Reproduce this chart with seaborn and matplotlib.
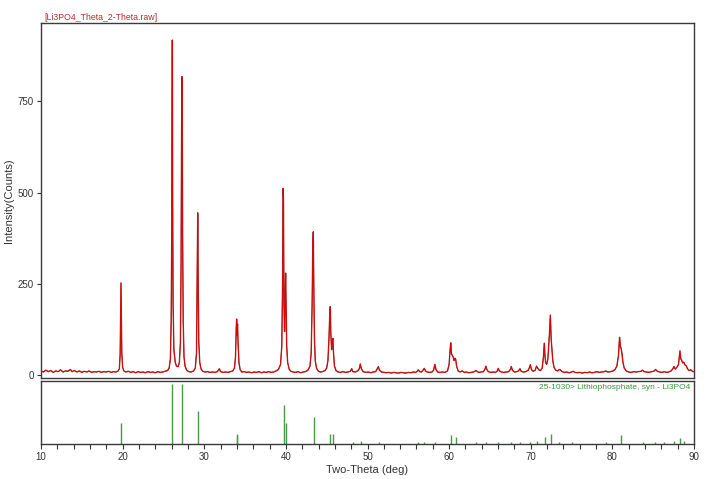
import matplotlib
matplotlib.use("Agg")
import matplotlib.pyplot as plt
from matplotlib.ticker import MultipleLocator
import seaborn as sns
import pandas as pd

# ---------------- data ----------------
two_theta = [
    10.0, 10.3, 10.6, 10.9, 11.2, 11.5, 11.8, 12.1, 12.4, 12.7, 13.0, 13.3, 13.6, 13.8,
    14.1, 14.4, 14.7, 15.0, 15.3, 15.6, 15.9, 16.2, 16.5, 16.8, 17.1, 17.4, 17.7, 18.0,
    18.3, 18.6, 18.9, 19.2, 19.45,
    19.6, 19.7, 19.76, 19.8, 19.84, 19.9, 20.0, 20.15,
    20.4, 20.7, 21.0, 21.3, 21.6, 21.9, 22.2, 22.5, 22.8, 23.1, 23.4, 23.7, 24.0, 24.3,
    24.6, 24.9, 25.2, 25.5, 25.7,
    25.85, 25.95, 26.02, 26.06, 26.09, 26.12, 26.18, 26.28, 26.45, 26.6, 26.8, 26.95,
    27.08, 27.16, 27.22, 27.27, 27.3, 27.34, 27.42, 27.52, 27.65, 27.85, 28.1, 28.4,
    28.7, 28.9, 29.05, 29.13, 29.2, 29.25, 29.33, 29.45, 29.6, 29.8, 30.1, 30.4, 30.7,
    31.0, 31.3, 31.6, 31.85, 32.0, 32.3, 32.6, 32.9, 33.2, 33.5, 33.7, 33.83, 33.92,
    33.97, 34.02, 34.08, 34.14, 34.25, 34.4, 34.6, 34.9, 35.2, 35.5, 35.8, 36.1, 36.4,
    36.7, 37.0, 37.3, 37.6, 37.9, 38.2, 38.5, 38.8, 39.1, 39.35, 39.5, 39.6, 39.66,
    39.71, 39.76, 39.84, 39.92, 39.97, 40.02, 40.1, 40.22, 40.4, 40.6, 40.9, 41.2,
    41.5, 41.8, 42.1, 42.4, 42.7, 42.95, 43.1, 43.22, 43.3, 43.36, 43.42, 43.5, 43.6,
    43.75, 43.95, 44.2, 44.5, 44.8, 45.0, 45.15, 45.28, 45.38, 45.44, 45.5, 45.6, 45.7,
    45.76, 45.84, 45.95, 46.15, 46.4, 46.7, 47.0, 47.3, 47.6, 47.9, 48.06, 48.2, 48.5,
    48.8, 49.0, 49.12, 49.25, 49.45, 49.8, 50.1, 50.4, 50.7, 51.0, 51.2, 51.33, 51.45,
    51.7, 52.0, 52.3, 52.6, 52.9, 53.2, 53.5, 53.8, 54.1, 54.4, 54.7, 55.0, 55.3, 55.6,
    55.9, 56.1, 56.22, 56.4, 56.6, 56.8, 56.96, 57.1, 57.3, 57.6, 57.9, 58.1, 58.25,
    58.4, 58.6, 58.9, 59.2, 59.5, 59.8, 60.0, 60.12, 60.2, 60.28, 60.38, 60.48, 60.6,
    60.72, 60.8, 60.92, 61.1, 61.35, 61.6, 61.85, 62.1, 62.4, 62.7, 63.0, 63.3, 63.6,
    63.9, 64.2, 64.4, 64.5, 64.62, 64.8, 65.1, 65.4, 65.7, 65.9, 66.02, 66.15, 66.4,
    66.7, 67.0, 67.3, 67.5, 67.62, 67.75, 68.0, 68.3, 68.5, 68.68, 68.82, 69.1, 69.4,
    69.7, 69.85, 69.95, 70.1, 70.3, 70.55, 70.7, 70.85, 71.0, 71.2, 71.4, 71.55, 71.66,
    71.74, 71.82, 71.95, 72.1, 72.28, 72.4, 72.5, 72.6, 72.7, 72.85, 73.05, 73.3, 73.5,
    73.62, 73.85, 74.1, 74.4, 74.7, 75.0, 75.2, 75.4, 75.7, 76.0, 76.3, 76.6, 76.9,
    77.2, 77.5, 77.8, 78.1, 78.4, 78.7, 79.0, 79.2, 79.45, 79.7, 80.0, 80.3, 80.55,
    80.75, 80.88, 80.98, 81.1, 81.2, 81.3, 81.45, 81.7, 82.0, 82.3, 82.6, 82.9, 83.2,
    83.5, 83.7, 83.9, 84.2, 84.5, 84.8, 85.05, 85.3, 85.5, 85.8, 86.1, 86.35, 86.6,
    86.9, 87.2, 87.4, 87.55, 87.7, 87.9, 88.1, 88.28, 88.38, 88.48, 88.6, 88.75, 88.9,
    89.05, 89.2, 89.4, 89.6, 89.8, 90.0,
]
counts = [
    12, 9, 14, 10, 13, 8, 12, 10, 15, 9, 12, 11, 16, 10,
    13, 9, 12, 8, 11, 9, 12, 8, 10, 9, 11, 8, 10, 9,
    11, 8, 10, 9, 12,
    18, 60, 180, 253, 170, 60, 22, 12,
    9, 11, 8, 10, 7, 10, 8, 9, 7, 10, 8, 9, 7, 10,
    8, 9, 11, 13, 20,
    45, 150, 400, 658, 918, 520, 200, 70, 35, 25, 24, 35,
    90, 300, 650, 818, 800, 420, 150, 50, 25, 14, 10, 9,
    12, 20, 60, 250, 445, 270, 90, 35, 18, 11, 9, 10, 8,
    9, 8, 10, 18, 10, 8, 9, 8, 10, 12, 20, 50, 130,
    154, 110, 140, 90, 35, 15, 9, 10, 8, 9, 7, 9, 8,
    10, 7, 9, 8, 10, 8, 9, 12, 16, 30, 80, 260, 512,
    480, 200, 120, 230, 280, 200, 80, 35, 17, 11, 9, 8,
    10, 7, 9, 10, 14, 25, 60, 200, 357, 393, 250, 100, 40,
    20, 12, 9, 10, 13, 20, 40, 100, 170, 188, 120, 70, 95,
    101, 60, 25, 13, 9, 8, 10, 8, 9, 11, 18, 10, 9,
    12, 18, 31, 18, 10, 8, 9, 7, 9, 10, 18, 24, 15,
    9, 8, 7, 8, 6, 8, 7, 6, 8, 7, 6, 8, 7, 9,
    8, 11, 15, 10, 9, 14, 19, 12, 9, 8, 9, 14, 30,
    15, 9, 8, 9, 8, 12, 30, 70, 89, 60, 55, 51, 40,
    47, 44, 25, 12, 9, 12, 8, 9, 7, 8, 9, 13, 8,
    9, 10, 17, 25, 16, 10, 8, 9, 8, 12, 19, 12, 9,
    8, 9, 10, 16, 24, 14, 9, 10, 12, 18, 11, 9, 10,
    14, 22, 29, 15, 11, 14, 25, 20, 15, 13, 20, 50, 88,
    55, 35, 30, 45, 110, 165, 100, 69, 40, 22, 14, 12, 16,
    15, 10, 8, 9, 7, 9, 11, 8, 7, 8, 6, 8, 7,
    9, 7, 8, 10, 8, 9, 10, 12, 9, 10, 11, 15, 25,
    55, 104, 80, 71, 55, 35, 20, 12, 9, 8, 10, 9, 10,
    11, 14, 10, 9, 8, 10, 11, 16, 11, 9, 8, 10, 8,
    9, 12, 18, 24, 17, 22, 30, 67, 45, 42, 34, 36, 28,
    26, 18, 13, 15, 11, 10,
]

ref_pos = [19.80, 26.09, 27.27, 29.23, 33.97, 34.05, 39.73, 40.01, 43.41, 45.44, 45.73,
           48.2, 49.2, 51.36, 56.2, 56.96, 58.3, 60.2, 60.84, 63.3, 64.5, 66.0, 67.6,
           68.7, 69.95, 70.8, 71.75, 72.44, 73.5, 75.1, 79.2, 81.06, 83.8, 85.2, 86.3,
           87.55, 88.3, 88.8]
ref_int = [35, 100, 100, 55, 16, 14, 65, 36, 45, 16, 16,
           3, 5, 4, 3, 4, 4, 15, 11, 3, 4, 4, 4,
           4, 4, 5, 11, 16, 3, 3, 3, 15, 3, 3, 3,
           5, 10, 5]

x_ticks = [10, 20, 30, 40, 50, 60, 70, 80, 90]
y_ticks = [0, 250, 500, 750]

title_text = "[Li3PO4_Theta_2-Theta.raw]"
ref_label = "25-1030> Lithiophosphate, syn - Li3PO4"
x_label = "Two-Theta (deg)"
y_label = "Intensity(Counts)"

# ---------------- style ----------------
sns.set_style("ticks")
plt.rcParams["font.family"] = ["Liberation Sans", "DejaVu Sans"]
plt.rcParams["axes.linewidth"] = 1.0

W, H = 720, 479
fig = plt.figure(figsize=(W / 100, H / 100), dpi=100)
L, R = 41, 694
ax1 = fig.add_axes([L / W, 1 - 378 / H, (R - L) / W, (378 - 23) / H])
ax2 = fig.add_axes([L / W, 1 - 444 / H, (R - L) / W, (444 - 381) / H])

frame_col = "#3a3a3a"
text_col = "#333333"

df = pd.DataFrame({"two_theta": two_theta, "counts": counts})
sns.lineplot(data=df, x="two_theta", y="counts", ax=ax1, color="#a03030",
             linewidth=1.0, estimator=None, sort=False)
sns.lineplot(data=df, x="two_theta", y="counts", ax=ax1, color="#e00000",
             linewidth=0.55, estimator=None, sort=False)

ax1.set_xlim(10, 90)
ax1.set_ylim(-7.4, 965)
ax1.set_yticks(y_ticks)
ax1.set_xticks([])
ax1.set_xlabel("")
ax1.set_ylabel(y_label, fontsize=8, color=text_col)
ax1.yaxis.set_label_coords((14 - L) / (R - L), 0.5)
ax1.tick_params(axis="y", direction="out", length=3, width=0.8, labelsize=7,
                colors=text_col, pad=2)
for s in ax1.spines.values():
    s.set_color(frame_col)
    s.set_visible(True)

ax2.vlines(ref_pos, 0, ref_int, color="#4a974a", linewidth=1.0)
ax2.set_xlim(10, 90)
ax2.set_ylim(0, 105.5)
ax2.set_yticks([])
ax2.set_xticks(x_ticks)
ax2.xaxis.set_minor_locator(MultipleLocator(2))
ax2.tick_params(axis="x", which="both", direction="out", length=3.5, width=0.8,
                labelsize=7, colors=text_col, pad=2)
ax2.set_xlabel(x_label, fontsize=8, color=text_col)
ax2.xaxis.set_label_coords(0.5, (444 - 465) / (444 - 381))
for s in ax2.spines.values():
    s.set_color(frame_col)
    s.set_visible(True)

fig.text(44 / W, 1 - 17.3 / H, title_text, fontsize=6.3, color="#b03030",
         ha="left", va="center")
fig.text(690 / W, 1 - 387.5 / H, ref_label, fontsize=6.0, color="#3a9a3a",
         ha="right", va="center")

fig.savefig("out.png", dpi=100)
